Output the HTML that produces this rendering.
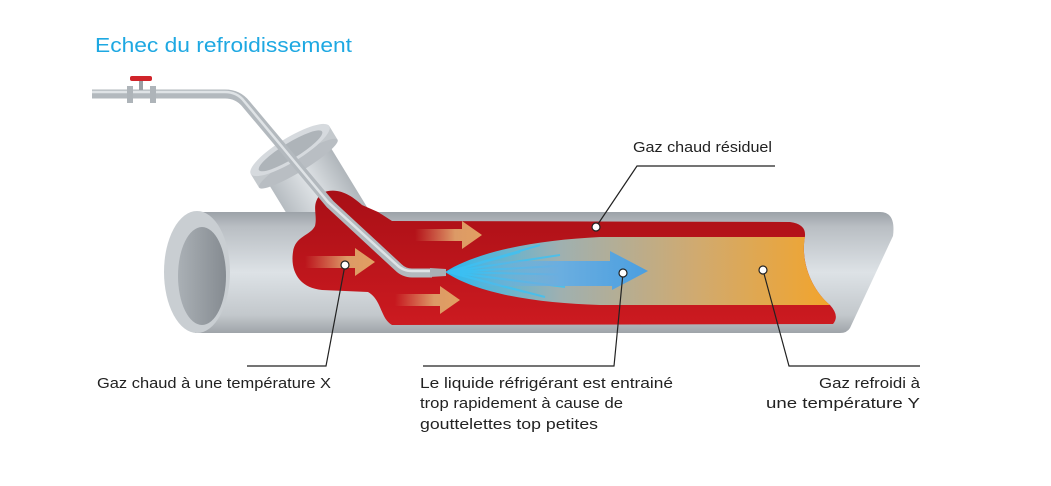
<!DOCTYPE html>
<html><head><meta charset="utf-8"><style>
html,body{margin:0;padding:0;background:#fff;width:1051px;height:486px;overflow:hidden}
svg{display:block}
text{font-family:"Liberation Sans",sans-serif}
</style></head><body>
<svg width="1051" height="486" viewBox="0 0 1051 486">
<defs>
<linearGradient id="pipe" x1="0" y1="0" x2="0" y2="1">
<stop offset="0" stop-color="#9ca2a8"/><stop offset="0.12" stop-color="#b9bec3"/><stop offset="0.5" stop-color="#dde2e6"/><stop offset="0.85" stop-color="#c3c8cc"/><stop offset="1" stop-color="#9fa4a9"/></linearGradient>
<linearGradient id="inner" x1="0" y1="0" x2="1" y2="0">
<stop offset="0" stop-color="#aab0b5"/><stop offset="1" stop-color="#858b91"/></linearGradient>
<linearGradient id="red" x1="0" y1="0" x2="0" y2="1">
<stop offset="0" stop-color="#a80f16"/><stop offset="1" stop-color="#cc1a20"/></linearGradient>
<linearGradient id="core" x1="445" y1="0" x2="830" y2="0" gradientUnits="userSpaceOnUse">
<stop offset="0" stop-color="#2ab8f0"/><stop offset="0.3" stop-color="#9fb0b0"/><stop offset="0.65" stop-color="#d0aa70"/><stop offset="1" stop-color="#f2a42c"/></linearGradient>
<linearGradient id="oa" x1="0" y1="0" x2="1" y2="0">
<stop offset="0" stop-color="#e0906a" stop-opacity="0"/><stop offset="0.6" stop-color="#dc9a66"/><stop offset="1" stop-color="#e2a062"/></linearGradient>
<linearGradient id="ba" x1="470" y1="0" x2="650" y2="0" gradientUnits="userSpaceOnUse">
<stop offset="0" stop-color="#6ab0e0" stop-opacity="0"/><stop offset="0.5" stop-color="#6aaee0"/><stop offset="1" stop-color="#4a9ee0"/></linearGradient>
<linearGradient id="fun" x1="0" y1="0" x2="1" y2="0">
<stop offset="0" stop-color="#b6bcc1"/><stop offset="0.5" stop-color="#dfe3e6"/><stop offset="1" stop-color="#b0b6bb"/></linearGradient>
</defs>

<text x="95" y="52" font-size="20" fill="#1ea8e2" textLength="257" lengthAdjust="spacingAndGlyphs">Echec du refroidissement</text>

<!-- funnel -->
<g transform="translate(290,150) rotate(-31.4)">
<rect x="-36" y="0" width="72" height="110" fill="url(#fun)"/>
<rect x="-46" y="0" width="92" height="16" fill="#c4c9cd"/>
<ellipse cx="0" cy="16" rx="46" ry="8" fill="#b9bec3"/>
<ellipse cx="0" cy="0" rx="46" ry="12" fill="#d6dade"/>
<ellipse cx="0" cy="1" rx="37" ry="8" fill="#aeb4b9"/>
</g>

<!-- main pipe -->
<path d="M195,212 L880,212 Q896,212 893,236 L850,328 Q847,333 840,333 L195,333 Z" fill="url(#pipe)"/>
<ellipse cx="197" cy="272" rx="33" ry="61" fill="#c9ced2"/>
<ellipse cx="202" cy="276" rx="24" ry="49" fill="url(#inner)"/>

<!-- red gas -->
<path d="M322,193 C338,186 352,196 362,205 L378,212 L392,221 L790,222 Q806,224 805,236 C800,262 812,290 830,305 Q840,316 833,324 L392,325 C380,318 382,300 368,292 L322,290 C300,288 290,272 293,252 C295,236 310,236 315,226 C318,214 310,204 322,193 Z" fill="url(#red)"/>
<!-- core -->
<path d="M445,272 C480,250 540,240 600,237 L805,237 C800,262 812,290 830,305 L600,305 C540,303 480,295 445,272 Z" fill="url(#core)"/>
<g stroke="#3cc2f5" stroke-width="2" opacity="0.8">
<line x1="448" y1="272" x2="540" y2="245"/><line x1="448" y1="272" x2="560" y2="255"/>
<line x1="448" y1="272" x2="575" y2="265"/><line x1="448" y1="272" x2="580" y2="275"/>
<line x1="448" y1="272" x2="565" y2="287"/><line x1="448" y1="272" x2="545" y2="297"/>
<line x1="448" y1="272" x2="520" y2="252"/><line x1="448" y1="272" x2="525" y2="292"/>
</g>
<!-- blue arrow -->
<path d="M470,261 L610,261 L610,251 L648,271 L612,290 L612,286 L470,286 Z" fill="url(#ba)"/>

<!-- orange arrows -->
<path d="M415,229 L462,229 L462,221 L482,235 L462,249 L462,241 L415,241 Z" fill="url(#oa)"/>
<path d="M305,256 L355,256 L355,248 L375,262 L355,276 L355,268 L305,268 Z" fill="url(#oa)"/>
<path d="M395,294 L440,294 L440,286 L460,300 L440,314 L440,306 L395,306 Z" fill="url(#oa)"/>

<!-- nozzle pipe -->
<path d="M92,94 L225,94 Q238,94 246,104 L330,204 L398,267 Q404,273 412,273 L432,273" fill="none" stroke="#b3b9be" stroke-width="9"/>
<path d="M92,92 L225,92 Q237,92 244,101 L328,202 L397,265 Q403,271 412,271 L432,271" fill="none" stroke="#dfe3e6" stroke-width="2.5"/>
<path d="M430,268 L446,269 L446,276 L430,277 Z" fill="#a9afb4"/>
<!-- valve -->
<rect x="127" y="86" width="6" height="17" fill="#aeb4b9"/>
<rect x="150" y="86" width="6" height="17" fill="#aeb4b9"/>
<rect x="139" y="80" width="4" height="10" fill="#9aa0a5"/>
<rect x="130" y="76" width="22" height="5" rx="2" fill="#d0242a"/>

<!-- leaders -->
<g stroke="#222" stroke-width="1.2" fill="none">
<polyline points="596,227 637,166 775,166"/>
<polyline points="345,265 326,366 247,366"/>
<polyline points="623,273 614,366 423,366"/>
<polyline points="763,270 789,366 920,366"/>
</g>
<g fill="#fff" stroke="#222" stroke-width="1.2">
<circle cx="596" cy="227" r="4"/><circle cx="345" cy="265" r="4"/>
<circle cx="623" cy="273" r="4"/><circle cx="763" cy="270" r="4"/>
</g>

<g font-size="15" fill="#222">
<text x="633" y="152" textLength="139" lengthAdjust="spacingAndGlyphs">Gaz chaud résiduel</text>
<text x="97" y="388" textLength="234" lengthAdjust="spacingAndGlyphs">Gaz chaud à une température X</text>
<text x="420" y="388" textLength="253" lengthAdjust="spacingAndGlyphs">Le liquide réfrigérant est entrainé</text>
<text x="420" y="408" textLength="203" lengthAdjust="spacingAndGlyphs">trop rapidement à cause de</text>
<text x="420" y="429" textLength="178" lengthAdjust="spacingAndGlyphs">gouttelettes top petites</text>
<text x="819" y="388" textLength="101" lengthAdjust="spacingAndGlyphs">Gaz refroidi à</text>
<text x="766" y="408" textLength="154" lengthAdjust="spacingAndGlyphs">une température Y</text>
</g>
</svg>
</body></html>
